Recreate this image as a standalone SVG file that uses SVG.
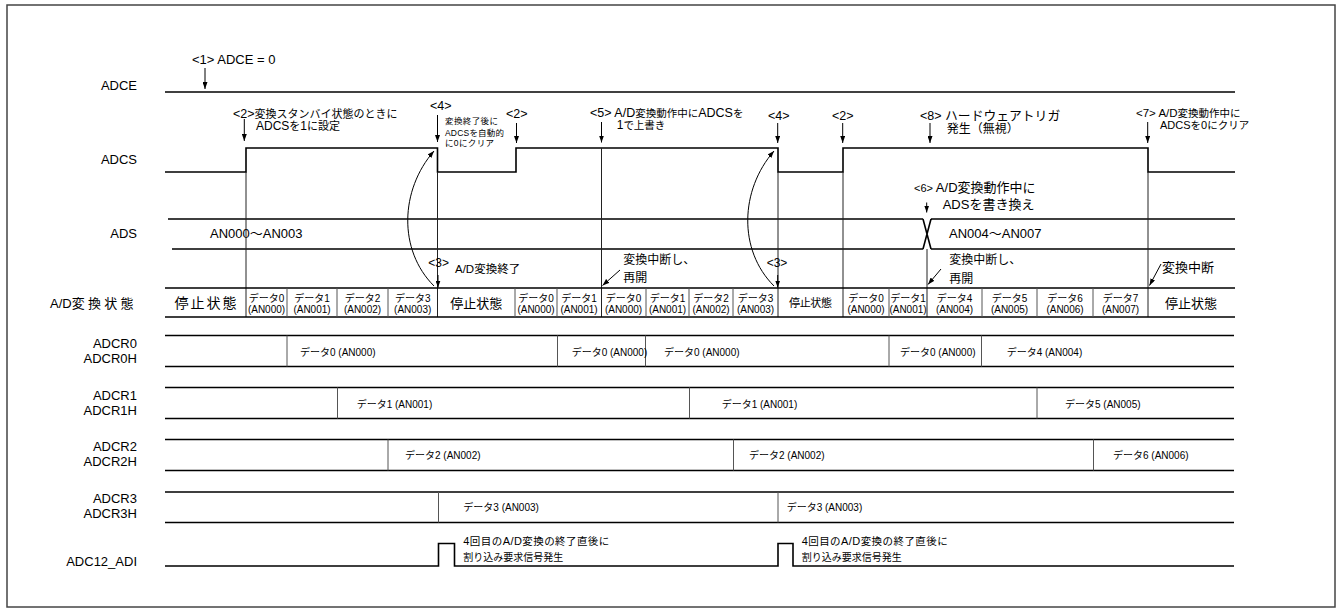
<svg xmlns="http://www.w3.org/2000/svg" width="1341" height="614" viewBox="0 0 1341 614">
<style>
text{font-family:"Liberation Sans",Arial,"Noto Sans CJK JP",sans-serif;fill:#000}
.lb{font-size:13px;text-anchor:end}
.sig{fill:none;stroke:#000;stroke-width:1.6}
.thin{fill:none;stroke:#222;stroke-width:1}
.div{fill:none;stroke:#555;stroke-width:1}
.arr{fill:none;stroke:#000;stroke-width:1;marker-end:url(#ah)}
.d{font-size:10px;text-anchor:middle}
.r{font-size:10px}
</style>
<defs>
<marker id="ah" viewBox="0 0 10 10" refX="10" refY="5" markerWidth="7" markerHeight="5" preserveAspectRatio="none" orient="auto" markerUnits="userSpaceOnUse"><path d="M0,0 L10,5 L0,10 z" fill="#000"/></marker>
</defs>
<rect x="7" y="5" width="1328" height="602" fill="#fff" stroke="#444" stroke-width="1.5"/>

<g id="labels">
<text class="lb" x="137" y="89.5">ADCE</text>
<text class="lb" x="137" y="163.5">ADCS</text>
<text class="lb" x="137" y="237.5">ADS</text>
<text x="50" y="307.5" font-size="13">A/D<tspan letter-spacing="3.3">変換状態</tspan></text>
<text class="lb" x="137" y="347.5">ADCR0</text>
<text class="lb" x="137" y="362.5">ADCR0H</text>
<text class="lb" x="137" y="399.5">ADCR1</text>
<text class="lb" x="137" y="414.5">ADCR1H</text>
<text class="lb" x="137" y="450.5">ADCR2</text>
<text class="lb" x="137" y="466">ADCR2H</text>
<text class="lb" x="137" y="502.5">ADCR3</text>
<text class="lb" x="137" y="517.5">ADCR3H</text>
<text class="lb" x="137" y="566">ADC12_ADI</text>
</g>

<g id="adce">
<path class="sig" d="M165,92 H1235"/>
</g>

<g id="adcs">
<path class="sig" d="M165,172 H246 V148 H437.5 V172 H516 V148 H778 V172 H843 V148 H1148 V172 H1235"/>
</g>

<g id="ads">
<path class="sig" d="M168,219 H923 M172,249 H923 M923,219 L931,249 M923,249 L931,219 M931,219 H1235 M931,249 H1235"/>
<text x="210" y="237.5" font-size="13">AN000～AN003</text>
<text x="949" y="237.5" font-size="13">AN004～AN007</text>
</g>

<g id="guides">
<path class="thin" d="M246,172 V317 M437.5,172 V317 M601.5,148 V317 M778,172 V317 M843,172 V317 M927,249 V317 M1148,172 V317"/>
</g>

<g id="state">
<path class="sig" d="M165,288 H1235 M165,317 H1235"/>
<path class="div" d="M287,288 V317 M337,288 V317 M388,288 V317 M515,288 V317 M557,288 V317 M646,288 V317 M689,288 V317 M733,288 V317 M889,288 V317 M982,288 V317 M1037,288 V317 M1093,288 V317"/>
<text x="205.5" y="308" font-size="14" text-anchor="middle" textLength="62" lengthAdjust="spacing">停止状態</text>
<text x="476.3" y="307.5" font-size="13" text-anchor="middle" textLength="52" lengthAdjust="spacing">停止状態</text>
<text x="810.5" y="307" font-size="11" text-anchor="middle" textLength="43" lengthAdjust="spacing">停止状態</text>
<text x="1191" y="307.5" font-size="13" text-anchor="middle" textLength="52" lengthAdjust="spacing">停止状態</text>
<text class="d" x="266.5" y="301.5">データ0</text><text class="d" x="266.5" y="312.5">(AN000)</text>
<text class="d" x="312" y="301.5">データ1</text><text class="d" x="312" y="312.5">(AN001)</text>
<text class="d" x="362.5" y="301.5">データ2</text><text class="d" x="362.5" y="312.5">(AN002)</text>
<text class="d" x="412.7" y="301.5">データ3</text><text class="d" x="412.7" y="312.5">(AN003)</text>
<text class="d" x="536" y="301.5">データ0</text><text class="d" x="536" y="312.5">(AN000)</text>
<text class="d" x="579" y="301.5">データ1</text><text class="d" x="579" y="312.5">(AN001)</text>
<text class="d" x="623.5" y="301.5">データ0</text><text class="d" x="623.5" y="312.5">(AN000)</text>
<text class="d" x="667.5" y="301.5">データ1</text><text class="d" x="667.5" y="312.5">(AN001)</text>
<text class="d" x="711" y="301.5">データ2</text><text class="d" x="711" y="312.5">(AN002)</text>
<text class="d" x="755.5" y="301.5">データ3</text><text class="d" x="755.5" y="312.5">(AN003)</text>
<text class="d" x="866" y="301.5">データ0</text><text class="d" x="866" y="312.5">(AN000)</text>
<text class="d" x="908" y="301.5">データ1</text><text class="d" x="908" y="312.5">(AN001)</text>
<text class="d" x="954.5" y="301.5">データ4</text><text class="d" x="954.5" y="312.5">(AN004)</text>
<text class="d" x="1009.5" y="301.5">データ5</text><text class="d" x="1009.5" y="312.5">(AN005)</text>
<text class="d" x="1065" y="301.5">データ6</text><text class="d" x="1065" y="312.5">(AN006)</text>
<text class="d" x="1120.5" y="301.5">データ7</text><text class="d" x="1120.5" y="312.5">(AN007)</text>
</g>

<g id="adcr0">
<path class="sig" d="M165,335.5 H1234 M165,366.5 H1234"/>
<path class="div" d="M287,335.5 V366.5 M557.5,335.5 V366.5 M645.5,335.5 V366.5 M889,335.5 V366.5 M981.5,335.5 V366.5"/>
<text class="r" x="300" y="355.5">データ0 (AN000)</text>
<text class="r" x="571.7" y="355.5">データ0 (AN000)</text>
<text class="r" x="664" y="355.5">データ0 (AN000)</text>
<text class="r" x="900" y="355.5">データ0 (AN000)</text>
<text class="r" x="1006.7" y="355.5">データ4 (AN004)</text>
</g>

<g id="adcr1">
<path class="sig" d="M165,387.5 H1234 M165,418.5 H1234"/>
<path class="div" d="M337.5,387.5 V418.5 M689.5,387.5 V418.5 M1037,387.5 V418.5"/>
<text class="r" x="356.7" y="407.5">データ1 (AN001)</text>
<text class="r" x="721.7" y="407.5">データ1 (AN001)</text>
<text class="r" x="1065" y="407.5">データ5 (AN005)</text>
</g>

<g id="adcr2">
<path class="sig" d="M165,439.5 H1234 M165,470.5 H1234"/>
<path class="div" d="M388,439.5 V470.5 M733.5,439.5 V470.5 M1093.5,439.5 V470.5"/>
<text class="r" x="405" y="458.5">データ2 (AN002)</text>
<text class="r" x="749" y="458.5">データ2 (AN002)</text>
<text class="r" x="1113" y="458.5">データ6 (AN006)</text>
</g>

<g id="adcr3">
<path class="sig" d="M165,492 H1234 M165,522.5 H1234"/>
<path class="div" d="M438.5,492 V522.5 M778,492 V522.5"/>
<text class="r" x="463.3" y="511">データ3 (AN003)</text>
<text class="r" x="786.7" y="511">データ3 (AN003)</text>
</g>

<g id="adi">
<path class="sig" d="M165,566 H438.5 V543.5 H454.5 V566 H778 V543.5 H793 V566 H1234"/>
<text x="463.3" y="545.2" font-size="11" textLength="146" lengthAdjust="spacing">4<tspan font-size="10.5">回目の</tspan>A/D<tspan font-size="10.5">変換の終了直後に</tspan></text>
<text x="463.3" y="560.8" font-size="10" textLength="100" lengthAdjust="spacing">割り込み要求信号発生</text>
<text x="801.7" y="545.2" font-size="11" textLength="146" lengthAdjust="spacing">4<tspan font-size="10.5">回目の</tspan>A/D<tspan font-size="10.5">変換の終了直後に</tspan></text>
<text x="801.7" y="560.8" font-size="10" textLength="100" lengthAdjust="spacing">割り込み要求信号発生</text>
</g>

<g id="notes">
<text x="192" y="63.5" font-size="13">&lt;1&gt; ADCE = 0</text>
<text x="233" y="117.5" font-size="12.5">&lt;2&gt;<tspan font-size="11">変換スタンバイ状態のときに</tspan></text>
<text x="256" y="129.5" font-size="12">ADCS<tspan font-size="11">を</tspan>1<tspan font-size="11">に設定</tspan></text>
<text x="430" y="109.5" font-size="12.5">&lt;4&gt;</text>
<text x="445" y="124" font-size="8.5" textLength="53" lengthAdjust="spacing">変換終了後に</text>
<text x="445" y="135.7" font-size="8.5" textLength="59" lengthAdjust="spacing">ADCSを自動的</text>
<text x="445" y="146.3" font-size="8.5" textLength="49" lengthAdjust="spacing">に0にクリア</text>
<text x="506" y="117.5" font-size="12.5">&lt;2&gt;</text>
<text x="590" y="117" font-size="12.5">&lt;5&gt; A/D<tspan font-size="10.5">変換動作中に</tspan>ADCS<tspan font-size="10.5">を</tspan></text>
<text x="616.7" y="129" font-size="12">1<tspan font-size="10.5">で上書き</tspan></text>
<text x="768" y="119.5" font-size="12.5">&lt;4&gt;</text>
<text x="832" y="119.5" font-size="12.5">&lt;2&gt;</text>
<text x="920" y="119.5" font-size="12.5">&lt;8&gt; <tspan font-size="12.8">ハードウェアトリガ</tspan></text>
<text x="946.7" y="132.8" font-size="12">発生（無視）</text>
<text x="1136" y="116.8" font-size="11.5">&lt;7&gt; A/D<tspan font-size="10.5">変換動作中に</tspan></text>
<text x="1160" y="128.8" font-size="11">ADCS<tspan font-size="10.5">を</tspan>0<tspan font-size="10.5">にクリア</tspan></text>
<text x="914" y="192" font-size="13"><tspan font-size="11">&lt;6&gt;</tspan> A/D変換動作中に</text>
<text x="942.7" y="209" font-size="13">ADSを書き換え</text>
<text x="428.3" y="266.8" font-size="12">&lt;3&gt;</text>
<text x="455" y="273.3" font-size="11.5">A/D変換終了</text>
<text x="766.7" y="266.8" font-size="12">&lt;3&gt;</text>
<text x="623.3" y="264.2" font-size="12">変換中断し、</text>
<text x="623.3" y="281.9" font-size="12">再開</text>
<text x="949.3" y="264.2" font-size="12">変換中断し、</text>
<text x="949.3" y="282.5" font-size="12">再開</text>
<text x="1162" y="272" font-size="13">変換中断</text>
</g>

<g id="connectors">
<path class="arr" d="M205,68 V89"/>
<path class="arr" d="M244.3,119 V141"/>
<path class="arr" d="M437.5,115 V142"/>
<path class="arr" d="M516.5,123 V143"/>
<path class="arr" d="M601.5,122 V142.5"/>
<path class="arr" d="M777.7,123 V143"/>
<path class="arr" d="M842.7,123 V143"/>
<path class="arr" d="M930,123 V143"/>
<path class="arr" d="M1147.7,122 V143"/>
<path class="arr" d="M926.7,202.5 V212.5"/>
<path class="arr" d="M438,275 V287.5"/>
<path class="arr" d="M777.7,275 V287.5"/>
<path class="arr" d="M620,270 L602.5,285.5"/>
<path class="arr" d="M941,269 L928,284.5"/>
<path class="arr" d="M1161,264 L1149.5,285.5"/>
<path class="arr" d="M434,286 C398,250 400,190 434,151"/>
<path class="arr" d="M774,286 C738,250 740,190 774,151"/>
</g>
</svg>
